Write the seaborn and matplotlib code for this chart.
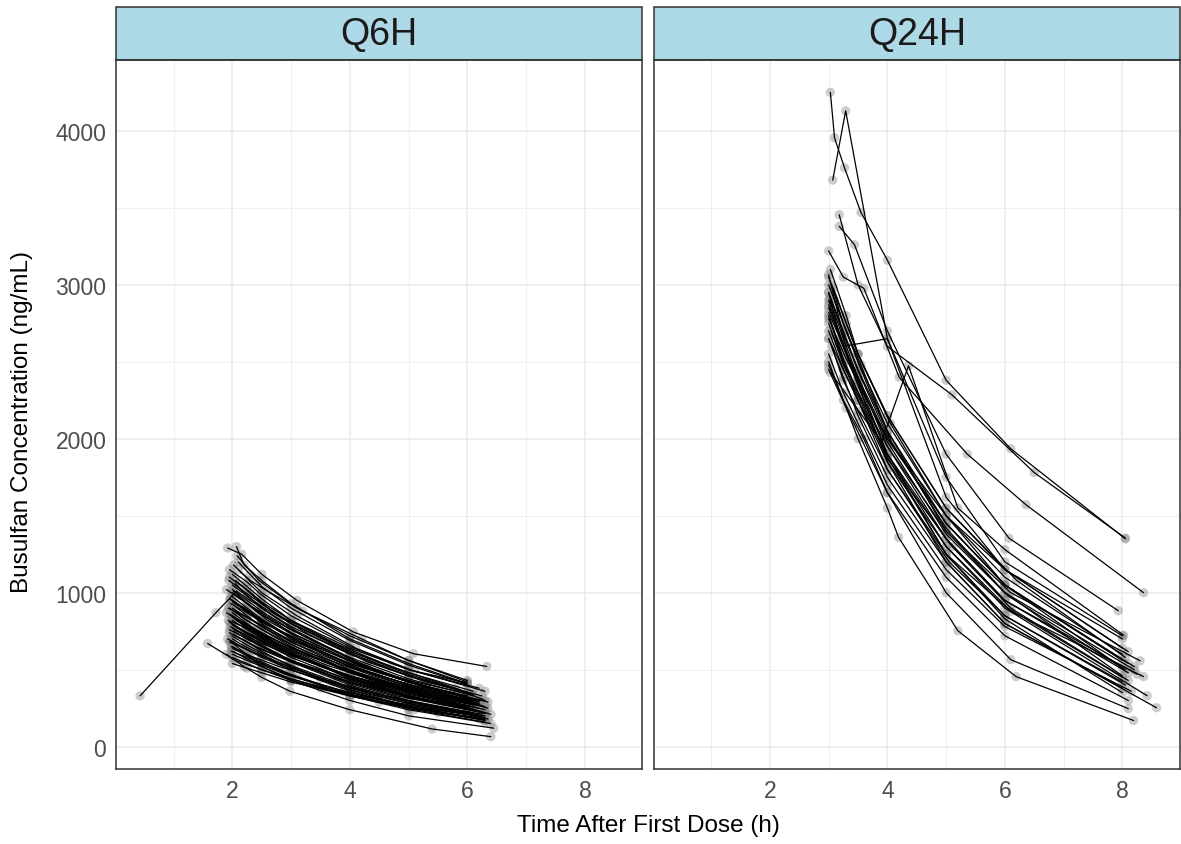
import pandas as pd
import matplotlib
matplotlib.use("Agg")
import matplotlib.pyplot as plt
from matplotlib.patches import Rectangle
from matplotlib.ticker import MultipleLocator
import seaborn as sns

# Q6H arm: one list of sampling times / concentrations per patient
q6h_time = [
    [0.43, 1.72, 2.07, 2.5, 3.0, 4.0, 5.0, 6.0],
    [1.58, 2.05, 2.5, 3.0, 4.0, 5.0, 6.0],
    [1.92, 2.16, 2.5, 3.1, 4.06, 5.08, 6.33],
    [2.07, 2.2, 2.5, 3.0, 4.0, 5.0, 6.0],
    [1.95, 2.25, 2.5, 3.0, 4.0, 5.0, 5.98],
    [1.9, 2.2, 2.5, 2.98, 4.0, 5.4, 6.4],
    [1.98, 2.5, 3.0, 4.0, 5.0, 6.45],
    [2.0, 2.25, 2.5, 3.0, 4.0, 5.0, 6.1],
    [1.98, 2.25, 2.5, 3.0, 4.0, 5.0, 6.05],
    [2.02, 2.25, 2.5, 3.02, 4.0, 5.0, 6.2],
    [1.96, 2.2, 2.5, 3.0, 4.02, 5.05, 6.1],
    [2.0, 2.25, 2.52, 3.0, 4.0, 5.0, 6.0],
    [1.97, 2.25, 2.5, 3.0, 4.0, 5.0, 6.25],
    [2.03, 2.3, 2.5, 3.0, 4.0, 5.02, 6.15],
    [1.99, 2.25, 2.5, 3.05, 4.05, 5.0, 6.3],
    [2.0, 2.22, 2.5, 3.0, 4.0, 5.0, 6.0],
    [1.95, 2.25, 2.48, 3.0, 4.0, 5.0, 6.2],
    [2.1, 2.3, 2.5, 3.0, 4.0, 5.0, 6.0],
    [2.0, 2.25, 2.5, 3.0, 4.0, 5.0, 6.1],
    [1.93, 2.25, 2.5, 3.0, 4.0, 5.05, 6.25],
    [2.05, 2.25, 2.55, 3.0, 4.0, 5.0, 6.3],
    [2.0, 2.25, 2.5, 3.0, 4.05, 5.0, 6.05],
    [1.98, 2.28, 2.5, 3.0, 4.0, 5.0, 6.15],
    [2.02, 2.25, 2.5, 3.0, 4.0, 5.0, 6.0],
    [1.95, 2.25, 2.5, 3.0, 4.0, 5.0, 6.2],
    [2.0, 2.25, 2.5, 3.0, 4.0, 5.1, 6.3],
    [1.98, 2.25, 2.5, 3.0, 4.0, 5.0, 6.0],
    [2.0, 2.25, 2.5, 3.0, 4.0, 5.0, 6.35],
    [2.05, 2.3, 2.5, 3.0, 4.0, 5.0, 6.1],
    [1.97, 2.25, 2.5, 3.05, 4.0, 5.0, 6.0],
    [2.0, 2.25, 2.5, 3.0, 4.0, 5.0, 6.25],
    [1.95, 2.2, 2.5, 3.0, 4.0, 5.0, 6.15],
    [2.0, 2.25, 2.5, 3.0, 4.0, 5.0, 6.3],
    [2.02, 2.25, 2.5, 3.0, 4.0, 5.05, 6.0],
    [1.96, 2.25, 2.5, 3.0, 4.0, 5.0, 6.2],
    [2.0, 2.25, 2.5, 3.0, 4.0, 5.0, 6.1],
    [1.98, 2.25, 2.5, 3.0, 4.0, 5.0, 6.3],
    [2.03, 2.25, 2.5, 3.0, 4.0, 5.0, 6.0],
    [1.95, 2.25, 2.5, 3.0, 4.0, 5.0, 6.25],
    [2.0, 2.25, 2.5, 3.0, 4.0, 5.0, 6.05],
    [2.0, 2.25, 2.5, 3.0, 4.0, 5.0, 6.0],
    [1.97, 2.2, 2.5, 3.0, 4.0, 5.0, 6.3],
    [2.0, 2.25, 2.5, 3.1, 4.0, 5.0, 6.4],
    [2.05, 2.25, 2.5, 3.0, 4.0, 5.0, 6.2],
    [1.93, 2.25, 2.5, 3.0, 4.0, 5.0, 6.1],
    [2.0, 2.25, 2.5, 3.0, 4.0, 5.0, 6.35],
    [2.02, 2.3, 2.6, 3.2, 4.2, 5.0, 6.0],
    [2.0, 2.25, 2.5, 3.0, 4.0, 5.0, 6.2],
    [2.1, 2.6, 3.2, 4.2, 5.2, 6.2],
    [1.9, 2.4, 2.9, 3.9, 4.9, 6.1],
    [2.15, 2.7, 3.3, 4.3, 5.3, 6.25],
    [1.95, 2.45, 3.0, 3.8, 4.8, 6.0],
    [2.0, 2.6, 3.4, 4.5, 5.5, 6.3],
    [2.05, 2.35, 2.8, 3.6, 4.6, 6.15],
    [1.92, 2.3, 2.9, 3.7, 4.7, 6.05],
    [2.1, 2.5, 3.1, 4.1, 5.1, 6.3],
    [2.0, 2.5, 3.0, 3.5, 4.5, 5.5, 6.2],
    [1.95, 2.2, 2.7, 3.3, 4.4, 5.4, 6.35],
    [2.02, 2.4, 3.0, 4.0, 5.2, 6.1],
    [1.98, 2.3, 2.8, 3.5, 4.5, 5.6, 6.25],
    [2.0, 2.35, 2.9, 3.6, 4.6, 5.6, 6.4],
    [1.9, 2.25, 2.75, 3.4, 4.3, 5.3, 6.2],
    [2.05, 2.4, 3.0, 3.8, 4.8, 5.8, 6.3],
    [2.0, 2.3, 2.8, 3.5, 4.5, 5.5, 6.1],
    [1.96, 2.5, 3.2, 4.2, 5.2, 6.2],
    [2.08, 2.45, 3.1, 4.0, 5.0, 6.0],
    [2.0, 2.3, 2.9, 3.9, 5.0, 6.3],
    [1.94, 2.3, 2.8, 3.7, 4.7, 5.8, 6.3],
]
q6h_conc = [
    [330, 870, 1010, 900, 780, 600, 460, 350],
    [670, 560, 500, 440, 340, 270, 210],
    [1290, 1250, 1120, 950, 745, 604, 521],
    [1300, 1180, 1080, 930, 700, 540, 410],
    [1100, 1020, 940, 820, 640, 500, 415],
    [600, 520, 450, 360, 240, 115, 65],
    [680, 520, 430, 300, 200, 120],
    [1050, 980, 910, 800, 620, 480, 360],
    [980, 900, 830, 710, 530, 400, 300],
    [920, 850, 780, 660, 490, 360, 250],
    [860, 800, 740, 640, 490, 380, 290],
    [820, 760, 700, 600, 450, 340, 260],
    [780, 720, 660, 560, 410, 300, 210],
    [760, 710, 670, 590, 460, 360, 270],
    [720, 660, 610, 520, 380, 290, 200],
    [700, 650, 600, 510, 380, 280, 210],
    [1150, 1070, 990, 850, 650, 500, 380],
    [1200, 1120, 1040, 900, 690, 530, 405],
    [950, 880, 800, 680, 500, 370, 270],
    [900, 840, 780, 680, 520, 400, 300],
    [880, 820, 750, 650, 480, 350, 240],
    [840, 770, 710, 610, 440, 330, 250],
    [800, 730, 680, 580, 430, 320, 230],
    [750, 700, 650, 560, 420, 320, 250],
    [680, 630, 580, 500, 370, 280, 200],
    [650, 600, 550, 470, 340, 240, 160],
    [620, 580, 540, 460, 350, 270, 210],
    [1000, 930, 860, 740, 560, 420, 290],
    [1080, 1000, 930, 800, 610, 460, 340],
    [930, 870, 810, 700, 540, 420, 330],
    [870, 800, 730, 620, 450, 330, 225],
    [810, 750, 700, 600, 460, 350, 270],
    [770, 710, 650, 550, 400, 290, 190],
    [730, 680, 630, 550, 420, 320, 250],
    [960, 890, 820, 700, 520, 390, 280],
    [1020, 950, 880, 760, 580, 440, 330],
    [850, 790, 720, 610, 440, 320, 220],
    [790, 740, 690, 600, 460, 360, 280],
    [740, 680, 620, 520, 370, 260, 180],
    [900, 840, 790, 690, 540, 430, 340],
    [1120, 1040, 960, 820, 620, 470, 355],
    [690, 640, 590, 500, 360, 260, 175],
    [640, 590, 540, 450, 330, 240, 150],
    [1060, 980, 900, 770, 570, 420, 300],
    [820, 770, 720, 630, 490, 380, 300],
    [600, 560, 520, 440, 330, 250, 180],
    [1180, 1080, 1010, 880, 700, 560, 420],
    [540, 510, 480, 420, 330, 260, 200],
    [980, 820, 690, 520, 400, 300],
    [870, 760, 660, 500, 380, 280],
    [1050, 870, 730, 550, 420, 330],
    [760, 660, 560, 440, 330, 240],
    [940, 790, 650, 480, 360, 260],
    [830, 750, 660, 530, 410, 280],
    [700, 620, 530, 420, 320, 220],
    [1150, 1000, 850, 640, 490, 360],
    [580, 500, 430, 380, 290, 220, 180],
    [900, 830, 720, 610, 460, 350, 250],
    [1010, 880, 740, 560, 400, 310],
    [650, 590, 520, 440, 340, 250, 185],
    [850, 760, 660, 550, 410, 300, 210],
    [1020, 930, 810, 680, 520, 390, 290],
    [720, 650, 560, 460, 350, 260, 215],
    [790, 720, 630, 520, 400, 300, 240],
    [960, 820, 670, 500, 380, 290],
    [1240, 1080, 900, 720, 560, 430],
    [620, 560, 470, 360, 260, 170],
    [1080, 980, 850, 680, 520, 380, 300],
]

# Q24H arm
q24h_time = [
    [3.03, 3.1, 3.27, 3.55, 4.0, 5.0, 6.1, 8.05],
    [3.07, 3.29, 4.0, 5.0, 6.0, 8.0],
    [3.18, 3.5, 4.0, 5.1, 6.5, 8.05],
    [3.0, 3.25, 3.6, 4.2, 5.36, 6.36, 8.36],
    [3.18, 3.44, 4.0, 5.0, 6.07, 7.93],
    [3.0, 3.5, 4.0, 4.19, 5.2, 6.19, 8.19],
    [3.0, 3.3, 4.0, 5.0, 6.1, 8.1],
    [3.03, 3.9, 4.36, 5.2, 6.0, 8.02],
    [3.0, 3.29, 4.0, 5.0, 6.0, 8.1],
    [3.0, 3.25, 3.5, 4.0, 5.0, 6.0, 8.0],
    [3.02, 3.25, 3.5, 4.0, 5.0, 6.0, 8.1],
    [3.0, 3.3, 3.5, 4.0, 5.0, 6.05, 8.0],
    [3.05, 3.25, 3.55, 4.0, 5.0, 6.0, 8.2],
    [3.0, 3.25, 3.5, 4.0, 5.05, 6.0, 8.05],
    [3.0, 3.25, 3.5, 4.0, 5.0, 6.1, 8.3],
    [3.03, 3.3, 3.5, 4.05, 5.0, 6.0, 8.0],
    [3.0, 3.25, 3.5, 4.0, 5.0, 6.0, 8.42],
    [3.0, 3.25, 3.5, 4.0, 5.0, 6.0, 8.58],
    [3.05, 3.25, 3.5, 4.0, 5.0, 6.1, 8.36],
    [3.0, 3.2, 3.5, 4.0, 5.0, 6.0, 8.0],
    [3.0, 3.25, 3.5, 4.0, 5.0, 6.0, 8.1],
    [3.02, 3.25, 3.5, 4.0, 5.0, 6.0, 8.0],
    [3.0, 3.25, 3.5, 4.0, 5.0, 6.05, 8.05],
    [3.0, 3.3, 3.55, 4.1, 5.0, 6.0, 8.2],
    [3.08, 3.3, 3.5, 4.0, 5.0, 6.0, 8.0],
    [3.0, 3.25, 3.5, 4.0, 5.0, 6.0, 8.15],
    [3.0, 3.25, 3.5, 4.0, 5.0, 6.0, 8.0],
    [3.04, 3.25, 3.5, 4.0, 5.1, 6.1, 8.1],
    [3.0, 3.25, 3.5, 4.0, 5.0, 6.2, 8.05],
    [3.0, 3.25, 3.5, 4.0, 5.0, 6.0, 8.25],
    [3.1, 3.3, 3.5, 4.0, 5.0, 6.0, 8.0],
    [3.0, 3.25, 3.6, 4.0, 5.0, 6.0, 8.1],
    [3.0, 3.25, 3.5, 4.0, 5.0, 6.0, 8.0],
    [3.02, 3.25, 3.5, 4.0, 5.0, 6.0, 8.0],
]
q24h_conc = [
    [4250, 3955, 3760, 3470, 3160, 2380, 1935, 1350],
    [3680, 4130, 2650, 1750, 1200, 720],
    [3455, 3000, 2600, 2285, 1780, 1355],
    [3220, 3050, 2977, 2400, 1900, 1571, 1000],
    [3380, 3260, 2700, 1900, 1354, 883],
    [2500, 2000, 1550, 1360, 753, 455, 170],
    [2450, 2200, 1650, 1000, 565, 247],
    [2430, 1980, 2474, 1550, 1280, 724],
    [3065, 2603, 2650, 1620, 1150, 617],
    [2950, 2700, 2450, 2050, 1450, 1050, 560],
    [2900, 2650, 2400, 1950, 1350, 950, 480],
    [2850, 2550, 2350, 1900, 1300, 900, 450],
    [3000, 2750, 2480, 2050, 1400, 1000, 500],
    [2800, 2500, 2250, 1800, 1200, 850, 400],
    [2750, 2500, 2300, 1950, 1400, 1000, 558],
    [3100, 2800, 2550, 2100, 1500, 1100, 600],
    [2700, 2450, 2250, 1850, 1300, 900, 331],
    [2650, 2400, 2150, 1750, 1200, 800, 253],
    [2600, 2380, 2180, 1800, 1250, 880, 455],
    [2950, 2650, 2350, 1850, 1200, 800, 380],
    [2820, 2600, 2400, 2000, 1450, 1050, 540],
    [2780, 2520, 2300, 1880, 1250, 850, 420],
    [2870, 2620, 2380, 1980, 1380, 980, 500],
    [3000, 2700, 2450, 1950, 1450, 1050, 520],
    [2980, 2750, 2550, 2150, 1550, 1150, 640],
    [2550, 2300, 2100, 1700, 1150, 780, 360],
    [2900, 2600, 2380, 1900, 1250, 830, 350],
    [2700, 2480, 2280, 1870, 1300, 900, 430],
    [3050, 2800, 2550, 2150, 1550, 1080, 580],
    [2650, 2450, 2250, 1900, 1350, 950, 470],
    [2900, 2700, 2500, 2100, 1500, 1050, 510],
    [2480, 2250, 2000, 1650, 1100, 720, 300],
    [2780, 2560, 2360, 2000, 1500, 1150, 700],
    [2920, 2680, 2440, 2020, 1420, 1000, 460],
]

regimens = ["Q6H", "Q24H"]

rows = []
for reg, times, concs in [("Q6H", q6h_time, q6h_conc), ("Q24H", q24h_time, q24h_conc)]:
    for i, (ts, cs) in enumerate(zip(times, concs)):
        for t, c in zip(ts, cs):
            rows.append({"regimen": reg, "id": f"{reg}_{i}", "time": t, "conc": c})
df = pd.DataFrame(rows)

sns.set_style("white")
plt.rcParams["font.family"] = ["Liberation Sans", "DejaVu Sans"]

g = sns.FacetGrid(df, col="regimen", col_order=regimens, sharex=True, sharey=True,
                  despine=False, height=7, aspect=0.75)
g.map_dataframe(sns.scatterplot, x="time", y="conc", color="grey", alpha=0.4,
                s=45, edgecolor="none", zorder=2)
g.map_dataframe(sns.lineplot, x="time", y="conc", units="id", estimator=None,
                color="black", lw=0.9, zorder=3)

fig = g.figure
fig.set_size_inches(11.81, 8.45)
fig.subplots_adjust(left=116 / 1181, right=1180 / 1181, bottom=75 / 845,
                    top=784 / 845, wspace=0.021)

strip_h = 53 / 709
for ax, reg in zip(g.axes.flat, regimens):
    ax.set_xlim(0.02, 8.98)
    ax.set_ylim(-145, 4460)
    ax.xaxis.set_major_locator(MultipleLocator(2))
    ax.xaxis.set_minor_locator(MultipleLocator(1))
    ax.yaxis.set_major_locator(MultipleLocator(1000))
    ax.yaxis.set_minor_locator(MultipleLocator(500))
    ax.grid(which="major", color="#EBEBEB", lw=1.1)
    ax.grid(which="minor", color="#EBEBEB", lw=0.55)
    ax.set_axisbelow(True)
    for sp in ax.spines.values():
        sp.set_color("#333333")
        sp.set_linewidth(1.1)
    ax.tick_params(which="major", length=4, width=1.1, color="#333333",
                   labelsize=16.5, labelcolor="#4D4D4D", pad=3)
    ax.tick_params(which="minor", length=0)
    ax.set_xlabel("")
    ax.set_ylabel("")
    ax.set_title("")
    ax.add_patch(Rectangle((0, 1), 1, strip_h, transform=ax.transAxes,
                           facecolor="#ADD8E6", edgecolor="#333333", lw=1.1,
                           clip_on=False))
    ax.text(0.5, 1 + strip_h / 2, reg, transform=ax.transAxes, ha="center",
            va="center", fontsize=27, color="#1A1A1A")

g.axes.flat[1].tick_params(axis="y", which="both", left=False, labelleft=False)

fig.text((116 + 1180) / 2 / 1181, 19 / 845, "Time After First Dose (h)",
         ha="center", va="center", fontsize=17.5, color="black")
fig.text(22 / 1181, (845 - 422) / 845, "Busulfan Concentration (ng/mL)",
         ha="center", va="center", rotation=90, fontsize=17.5, color="black")

fig.savefig("out.png", dpi=100)
